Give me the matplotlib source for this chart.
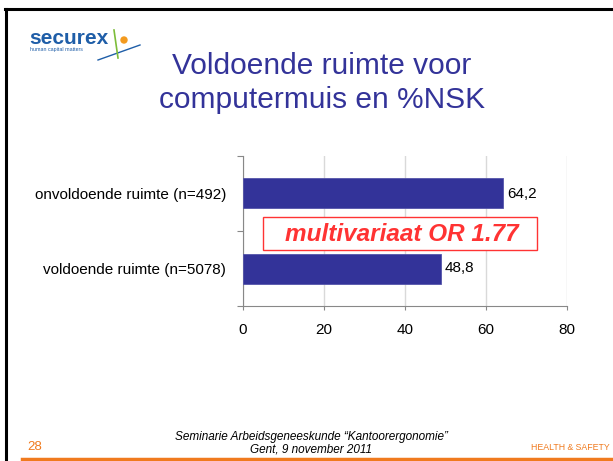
import matplotlib.pyplot as plt
from matplotlib.patches import Ellipse, Rectangle

plt.rcParams['font.family'] = ['Liberation Sans', 'DejaVu Sans']

categories = ["voldoende ruimte (n=5078)", "onvoldoende ruimte (n=492)"]
nsk_pct = [48.8, 64.2]
value_labels = ["48,8", "64,2"]
x_ticks = [0, 20, 40, 60, 80]

W, H = 613, 461
fig = plt.figure(figsize=(W/100, H/100), dpi=100)

# slide frame (top + left black border, orange footer line)
fig.add_artist(plt.Line2D([5/W, 1], [1-9/H, 1-9/H], color="black", lw=2.2))
fig.add_artist(plt.Line2D([6/W, 6/W], [0, 1-9/H], color="black", lw=2.2))
fig.add_artist(plt.Line2D([22/W, 1], [1-459/H, 1-459/H], color="#f07a1e", lw=2.5))

# logo (rough)
fig.text(29/W, 1-38/H, "securex", color="#1f5ea8", fontsize=15, fontweight="bold", va="center")
fig.text(30/W, 1-50/H, "human capital matters", color="#1f5ea8", fontsize=3.8, va="center")
fig.add_artist(Ellipse((124/W, 1-40/H), 6/W, 6/H, color="#f39a1e"))
fig.add_artist(plt.Line2D([98/W, 140/W], [1-60/H, 1-45/H], color="#1f5ea8", lw=1))
fig.add_artist(plt.Line2D([114/W, 118/W], [1-30/H, 1-58/H], color="#7cbd3a", lw=1.2))

# title
fig.text(322/W, 1-66/H, "Voldoende ruimte voor", color="#333399", fontsize=21.5, ha="center", va="center")
fig.text(322/W, 1-100/H, "computermuis en %NSK", color="#333399", fontsize=21.5, ha="center", va="center")

ax = fig.add_axes([243/W, 1-306/H, 324/W, 150/H])
ypos = list(range(len(categories)))
ax.barh(ypos, nsk_pct, height=0.4, color="#333399", edgecolor="#5555aa", lw=0.6, zorder=3)
for y, v, lab in zip(ypos, nsk_pct, value_labels):
    ax.text(v + 1, y, lab, va="center", ha="left", fontsize=11)

ax.set_xlim(0, 80)
ax.set_ylim(-0.5, 1.5)
ax.set_xticks(x_ticks)
ax.set_yticks([-0.5, 0.5, 1.5])
ax.set_yticklabels([])
ax.set_yticks(ypos, minor=True)
ax.set_yticklabels(categories, minor=True, fontsize=11)
ax.tick_params(axis="y", which="minor", length=0, pad=12)
ax.tick_params(axis="y", which="major", length=4, color="#888888")
ax.tick_params(axis="x", length=3, color="#888888", labelsize=11, pad=9)
ax.grid(axis="x", color="#d9d9d9", lw=1, zorder=0)
for s in ["top", "right"]:
    ax.spines[s].set_visible(False)
for s in ["left", "bottom"]:
    ax.spines[s].set_color("#888888")

# annotation box
ax.add_patch(Rectangle((5.0, 0.24), 67.7, 0.45, fc="white", ec="#ff3333", lw=1,
                       zorder=4, clip_on=False))
ax.text(39.2, 0.46, "multivariaat OR 1.77", color="#ff3333", fontsize=17.5,
        fontweight="bold", fontstyle="italic", ha="center", va="center", zorder=5)

# footer
fig.text(311/W, 1-437/H, "Seminarie Arbeidsgeneeskunde \u201cKantoorergonomie\u201d",
         fontsize=8.5, fontstyle="italic", ha="center", va="center")
fig.text(311/W, 1-449/H, "Gent, 9 november 2011", fontsize=8.5, fontstyle="italic", ha="center", va="center")
fig.text(27/W, 1-447/H, "28", color="#f07a1e", fontsize=9.5, va="center")
fig.text(610/W, 1-447/H, "HEALTH & SAFETY", color="#f07a1e", fontsize=6.3, ha="right", va="center")

fig.savefig("out.png", dpi=100)
